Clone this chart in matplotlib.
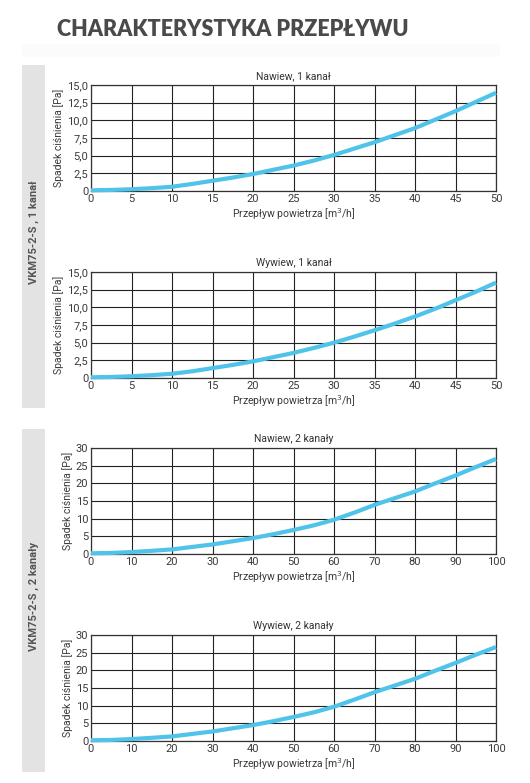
import matplotlib.pyplot as plt
from matplotlib.patches import Rectangle
from matplotlib.ticker import FixedLocator, FixedFormatter, MultipleLocator

plt.rcParams['font.family'] = ['Roboto', 'DejaVu Sans']

W, H = 530, 783

# dane
flow_1 = [0, 2.5, 5, 7.5, 10, 12.5, 15, 17.5, 20, 22.5, 25,
          27.5, 30, 32.5, 35, 37.5, 40, 42.5, 45, 47.5, 50]
nawiew_1 = [0.1, 0.15, 0.25, 0.4, 0.6, 1.0, 1.45, 1.9, 2.4, 3.0, 3.6,
            4.3, 5.1, 6.0, 6.9, 7.9, 8.9, 10.1, 11.3, 12.6, 13.9]
wywiew_1 = [0.1, 0.15, 0.25, 0.4, 0.6, 0.95, 1.4, 1.85, 2.35, 2.95, 3.55,
            4.25, 5.0, 5.85, 6.75, 7.7, 8.7, 9.8, 11.0, 12.2, 13.5]

flow_2 = [0, 5, 10, 15, 20, 25, 30, 35, 40, 45, 50,
          55, 60, 65, 70, 75, 80, 85, 90, 95, 100]
nawiew_2 = [0.2, 0.3, 0.55, 0.9, 1.3, 2.0, 2.7, 3.6, 4.5, 5.6, 6.8,
            8.1, 9.7, 11.7, 13.9, 15.8, 17.7, 20.0, 22.2, 24.6, 26.9]
wywiew_2 = [0.2, 0.3, 0.55, 0.9, 1.3, 2.0, 2.7, 3.6, 4.5, 5.6, 6.8,
            8.1, 9.7, 11.7, 13.8, 15.7, 17.6, 19.9, 22.1, 24.4, 26.6]

yticks_1 = [0, 2.5, 5.0, 7.5, 10.0, 12.5, 15.0]
ylabels_1 = ["0", "2,5", "5,0", "7,5", "10,0", "12,5", "15,0"]
yticks_2 = [0, 5, 10, 15, 20, 25, 30]
ylabels_2 = ["0", "5", "10", "15", "20", "25", "30"]

titles = ["Nawiew, 1 kanał", "Wywiew, 1 kanał", "Nawiew, 2 kanały", "Wywiew, 2 kanały"]
sections = ["VKM75-2-S , 1 kanał", "VKM75-2-S , 2 kanały"]

fig = plt.figure(figsize=(W / 100, H / 100), dpi=100)

# naglowek
fig.text(57 / W, 1 - 30 / H, "CHARAKTERYSTYKA PRZEPŁYWU", family=['Lato', 'DejaVu Sans'],
         fontsize=15.5, fontweight='heavy', color='#4a4a4a', va='center', ha='left')
fig.patches.append(Rectangle((22 / W, 1 - 57 / H), 478 / W, 13 / H, transform=fig.transFigure,
                             facecolor='#fbfbfb', edgecolor='none', zorder=0))

# szare paski boczne
for (top, bot), label in zip([(65, 408), (429, 772)], sections):
    fig.patches.append(Rectangle((22 / W, 1 - bot / H), 23 / W, (bot - top) / H,
                                 transform=fig.transFigure, facecolor='#e3e3e3',
                                 edgecolor='none', zorder=0))
    fig.text(34 / W, 1 - ((top + bot) / 2 - 4) / H, label, rotation=90, ha='center', va='center',
             fontsize=8, fontweight='bold', color='#555555')

panels = [
    (85, 191, flow_1, nawiew_1, yticks_1, ylabels_1, 50, 15.0, titles[0]),
    (272, 378, flow_1, wywiew_1, yticks_1, ylabels_1, 50, 15.0, titles[1]),
    (448, 554, flow_2, nawiew_2, yticks_2, ylabels_2, 100, 30, titles[2]),
    (635, 741, flow_2, wywiew_2, yticks_2, ylabels_2, 100, 30, titles[3]),
]

for top, bot, x, y, yt, yl, xmax, ymax, title in panels:
    ax = fig.add_axes([91 / W, 1 - bot / H, 405 / W, (bot - top) / H])
    ax.plot(x, y, color='#4fc3e9', lw=3.0, solid_capstyle='butt', zorder=3, clip_on=False)
    ax.set_xlim(0, xmax)
    ax.set_ylim(0, ymax)
    ax.xaxis.set_major_locator(MultipleLocator(xmax / 10))
    ax.yaxis.set_major_locator(FixedLocator(yt))
    ax.yaxis.set_major_formatter(FixedFormatter(yl))
    ax.grid(True, color='#222222', lw=0.8)
    ax.tick_params(length=0, labelsize=8, colors='#3a3a3a', pad=2)
    for s in ax.spines.values():
        s.set_color('#333333')
        s.set_linewidth(0.9)
    ax.set_title(title, fontsize=7.5, color='#333333', pad=4)
    ax.set_xlabel("Przepływ powietrza [m$^3$/h]", fontsize=7.5, color='#3a3a3a', labelpad=2)
    ax.set_ylabel("Spadek ciśnienia [Pa]", fontsize=7.5, color='#3a3a3a', labelpad=2)

fig.savefig("out.png", dpi=100, facecolor='white')
